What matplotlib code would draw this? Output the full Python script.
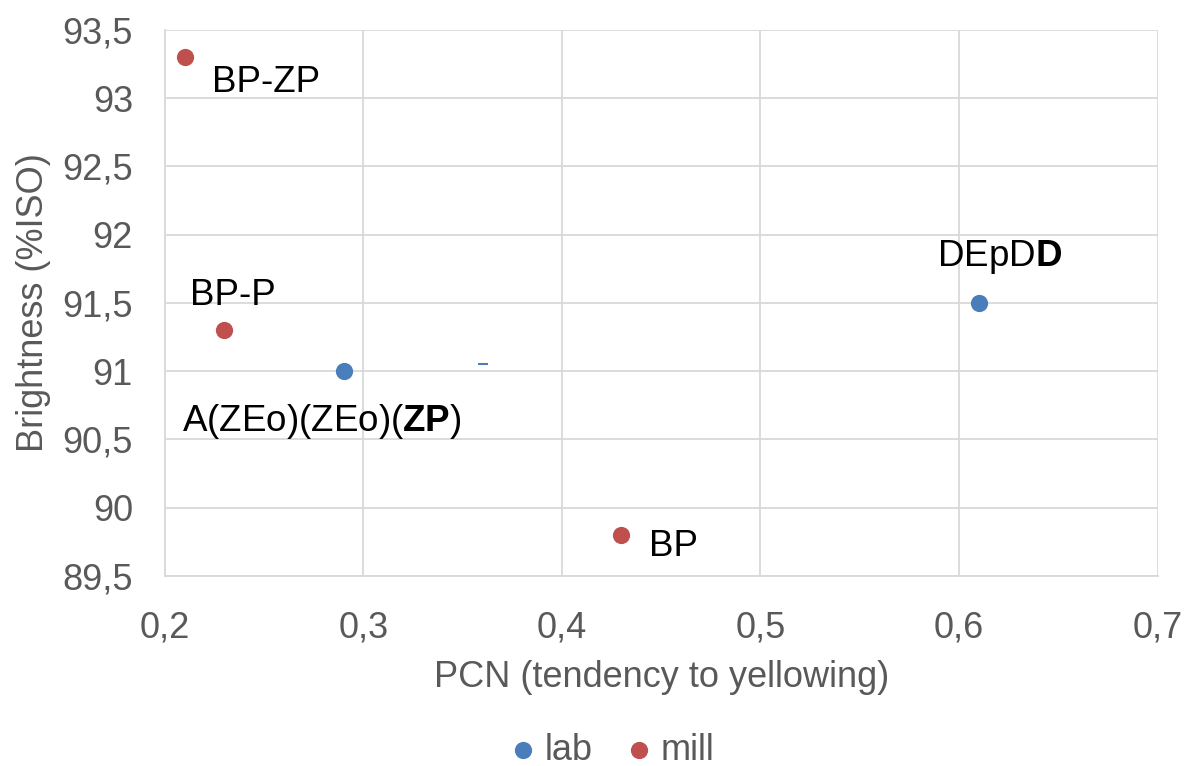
import matplotlib
matplotlib.use('Agg')
import matplotlib.pyplot as plt
from matplotlib.ticker import FuncFormatter, MultipleLocator

plt.rcParams['font.family'] = ['Liberation Sans', 'DejaVu Sans']
plt.rcParams['mathtext.fontset'] = 'custom'
plt.rcParams['mathtext.rm'] = 'Liberation Sans'
plt.rcParams['mathtext.bf'] = 'Liberation Sans:bold'

# data
lab_x = [0.29, 0.61]
lab_y = [91.0, 91.5]
mill_x = [0.21, 0.23, 0.43]
mill_y = [93.3, 91.3, 89.8]
stray_x = [0.36]
stray_y = [91.05]

labels = ['BP-ZP', 'BP-P', r'A(ZEo)(ZEo)($\mathbf{ZP}$)', r'DEpD$\mathbf{D}$', 'BP']
label_x = [0.21, 0.23, 0.29, 0.61, 0.43]
label_y = [93.3, 91.3, 91.0, 91.5, 89.8]
label_off = [(20, -18), (-25, 25), (-116, -36), (-30, 33), (20, -8)]

blue = '#4a7ebb'
red = '#c0504d'

fig = plt.figure(figsize=(11.86, 7.66), dpi=100)
ax = fig.add_axes([0.139, 0.248, 0.837, 0.713])

ax.scatter(lab_x, lab_y, s=130, color=blue, label='lab', zorder=3)
ax.scatter(mill_x, mill_y, s=130, color=red, label='mill', zorder=3)
ax.plot(stray_x, stray_y, marker='_', color=blue, markersize=7, mew=1.5, linestyle='none')

for t, x, y, off in zip(labels, label_x, label_y, label_off):
    ax.annotate(t, (x, y), xytext=off, textcoords='offset points',
                fontsize=26.5, color='black', va='center', ha='left')

ax.set_xlim(0.2, 0.7)
ax.set_ylim(89.5, 93.5)
ax.xaxis.set_major_locator(MultipleLocator(0.1))
ax.yaxis.set_major_locator(MultipleLocator(0.5))
fmt = FuncFormatter(lambda v, p: ('%g' % round(v, 2)).replace('.', ','))
ax.xaxis.set_major_formatter(fmt)
ax.yaxis.set_major_formatter(fmt)
ax.tick_params(labelsize=26, colors='#595959', length=0)
ax.tick_params(axis='y', pad=23)
ax.tick_params(axis='x', pad=25)
ax.grid(True, color='#d9d9d9', linewidth=1.3)
ax.set_axisbelow(True)
for s in ['top', 'right']:
    ax.spines[s].set_visible(False)
for s in ['left', 'bottom']:
    ax.spines[s].set_color('#d9d9d9')
    ax.spines[s].set_linewidth(1.3)

ax.set_xlabel('PCN (tendency to yellowing)', fontsize=26, color='#595959', labelpad=10)
ax.set_ylabel('Brightness (%ISO)', fontsize=26, color='#595959', labelpad=8)

fig.legend(loc='lower center', bbox_to_anchor=(0.517, -0.045), ncol=2, frameon=False,
           fontsize=26, labelcolor='#595959', handlelength=0.6, handletextpad=0.3,
           columnspacing=1.0, markerscale=1.0)

fig.savefig('out.png', dpi=100)
